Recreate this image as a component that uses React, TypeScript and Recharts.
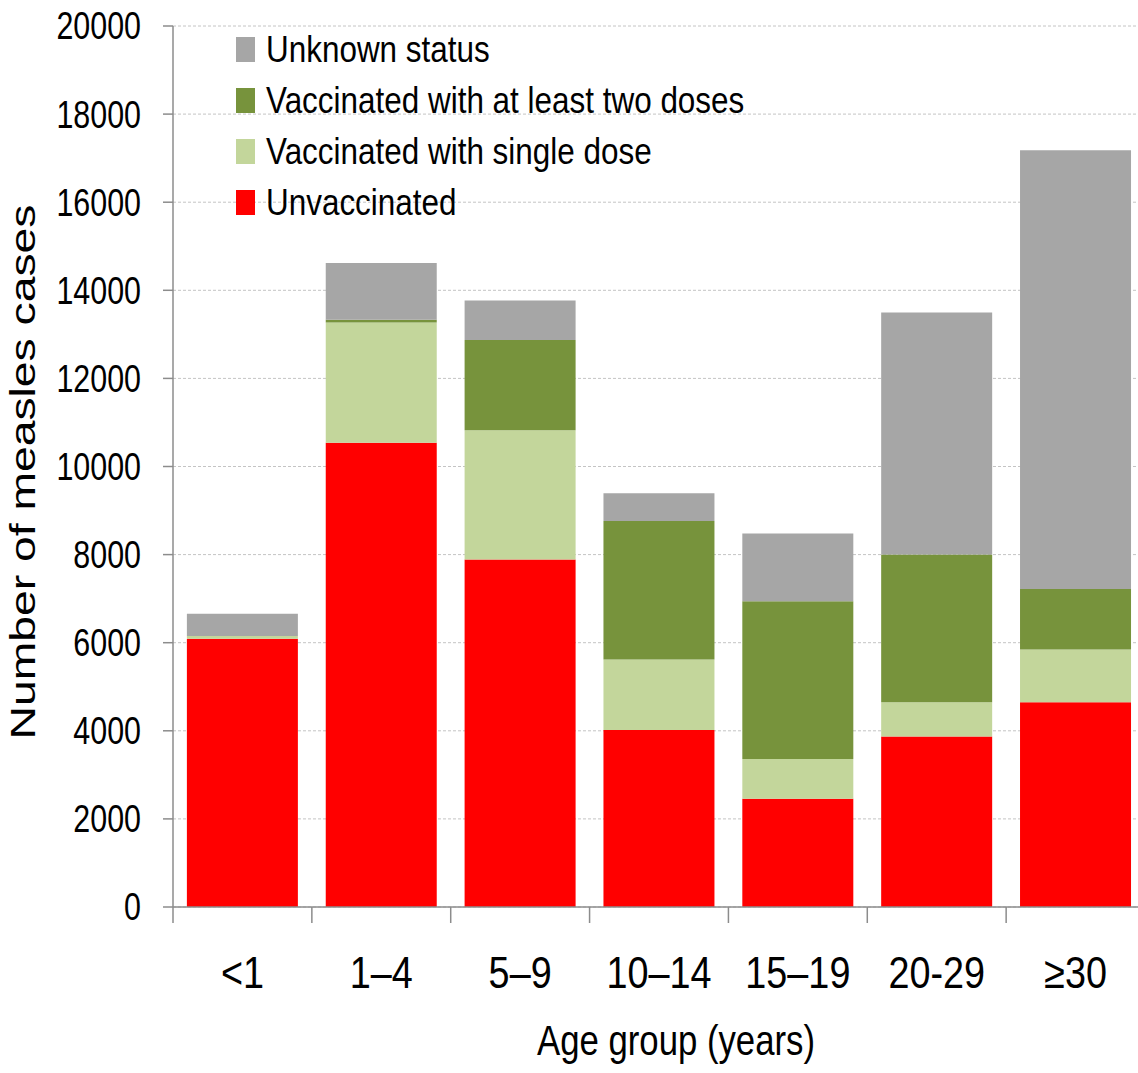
import React from 'react';
import { BarChart, Bar, XAxis, YAxis, CartesianGrid, Legend, Label } from 'recharts';

const categories = ['<1', '1–4', '5–9', '10–14', '15–19', '20-29', '≥30'];
const unvaccinated = [6090, 10540, 7890, 4020, 2460, 3870, 4650];
const singleDose = [60, 2730, 2935, 1600, 900, 780, 1195];
const twoDoses = [0, 60, 2045, 3140, 3580, 3350, 1375];
const unknownStatus = [510, 1290, 900, 630, 1540, 5495, 9960];
const yTicks = [0, 2000, 4000, 6000, 8000, 10000, 12000, 14000, 16000, 18000, 20000];

const seriesMeta = [
  { key: 'unvaccinated', name: 'Unvaccinated', color: '#FF0000' },
  { key: 'single', name: 'Vaccinated with single dose', color: '#C3D69B' },
  { key: 'two', name: 'Vaccinated with at least two doses', color: '#77933C' },
  { key: 'unknown', name: 'Unknown status', color: '#A6A6A6' },
];

const data = categories.map((cat, i) => ({
  cat,
  unvaccinated: unvaccinated[i],
  single: singleDose[i],
  two: twoDoses[i],
  unknown: unknownStatus[i],
}));

const FONT = "'Liberation Sans', Arial, sans-serif";
const AXIS = '#8c8c8c';
const CHART_W = 1150;
const CHART_H = 1073;
const MARGIN = { top: 26, right: 5, bottom: 0, left: 0 };
const Y_W = 173;
const X_H = 166;
const CAT_W = (CHART_W - MARGIN.left - MARGIN.right - Y_W) / categories.length;

const XTick = (props: any) => {
  const { x, y, payload } = props;
  return (
    <g>
      <line x1={x - CAT_W / 2} x2={x - CAT_W / 2} y1={y} y2={y + 16} stroke={AXIS} strokeWidth={1.5} />
      <text transform={`translate(${x} ${y + 81}) scale(0.84 1)`} x={0} y={0} textAnchor="middle"
        fontSize={45} fontFamily={FONT} fill="#000">
        {payload.value}
      </text>
    </g>
  );
};

const YTick = (props: any) => {
  const { x, y, payload } = props;
  return (
    <text transform={`translate(${x} ${y}) scale(0.8 1)`} x={0} y={0} dy="0.355em" textAnchor="end"
      fontSize={38} fontFamily={FONT} fill="#000">
      {payload.value}
    </text>
  );
};

const XTitle = () => (
  <text x={676} y={1055} textAnchor="middle" fontSize={42} fontFamily={FONT} fill="#000"
    textLength={278} lengthAdjust="spacingAndGlyphs">
    Age group (years)
  </text>
);

const YTitle = () => (
  <text x={35} y={472} transform="rotate(-90 35 472)" textAnchor="middle" fontSize={35}
    fontFamily={FONT} fill="#000" textLength={535} lengthAdjust="spacingAndGlyphs">
    Number of measles cases
  </text>
);

const LegendContent = () => {
  const items = [...seriesMeta].reverse();
  return (
    <svg width={900} height={230} style={{ display: 'block' }}>
      {items.map((s, i) => (
        <g key={s.key}>
          <rect x={236} y={37 + i * 51} width={19} height={25} fill={s.color} />
          <text transform={`translate(266 ${62 + i * 51}) scale(0.85 1)`} x={0} y={0}
            fontSize={37} fontFamily={FONT} fill="#000">
            {s.name}
          </text>
        </g>
      ))}
    </svg>
  );
};

export default function App() {
  return (
    <div style={{ position: 'fixed', left: 0, top: 0, width: 1138, height: 1073, overflow: 'hidden', background: '#fff' }}>
      <BarChart width={CHART_W} height={CHART_H} data={data} margin={MARGIN} barCategoryGap="10%">
        <CartesianGrid vertical={false} stroke="#c4c4c4" strokeDasharray="3 2" />
        <XAxis
          dataKey="cat"
          height={X_H}
          interval={0}
          axisLine={{ stroke: AXIS, strokeWidth: 1.5 }}
          tickLine={false}
          tickSize={0}
          tickMargin={0}
          tick={<XTick />}
        >
          <Label content={<XTitle />} />
        </XAxis>
        <YAxis
          width={Y_W}
          domain={[0, 20000]}
          ticks={yTicks}
          interval={0}
          allowDataOverflow
          axisLine={{ stroke: AXIS, strokeWidth: 1.5 }}
          tickLine={{ stroke: AXIS, strokeWidth: 1.5 }}
          tickSize={10}
          tickMargin={22}
          tick={<YTick />}
        >
          <Label content={<YTitle />} />
        </YAxis>
        <Legend
          layout="vertical"
          align="center"
          verticalAlign="middle"
          content={<LegendContent />}
          wrapperStyle={{ position: 'absolute', left: 0, top: 0, width: 900, height: 230 }}
        />
        {seriesMeta.map((s) => (
          <Bar key={s.key} dataKey={s.key} name={s.name} stackId="a" fill={s.color} isAnimationActive={false} />
        ))}
      </BarChart>
    </div>
  );
}
